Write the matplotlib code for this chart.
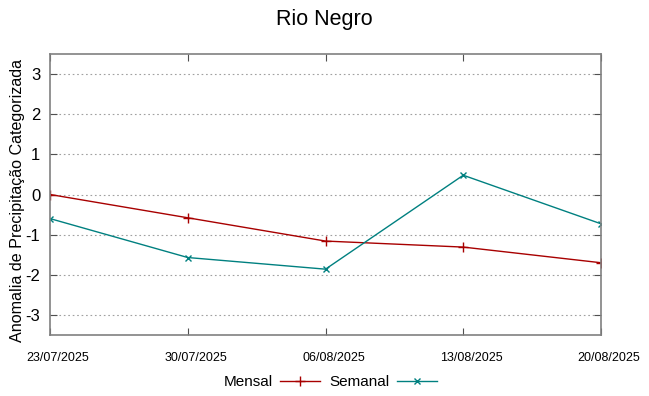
import matplotlib
matplotlib.use("Agg")
import matplotlib.pyplot as plt
import matplotlib.transforms as mtransforms
import pandas as pd

plt.rcParams['font.family'] = ['Liberation Sans', 'DejaVu Sans']
plt.rcParams['axes.unicode_minus'] = False

dates = ["2025-07-23", "2025-07-30", "2025-08-06", "2025-08-13", "2025-08-20"]
tick_labels = ["23/07/2025", "30/07/2025", "06/08/2025", "13/08/2025", "20/08/2025"]
mensal = [0.0, -0.58, -1.16, -1.31, -1.70]
semanal = [-0.60, -1.57, -1.86, 0.48, -0.73]

x = pd.to_datetime(dates)

fig = plt.figure(figsize=(6.49, 3.96), dpi=100)
ax = fig.add_axes([50/649, 61/396, 551/649, 281/396])

ax.plot(x, mensal, color='#a80000', lw=1.0, marker='+', ms=7, mew=1.0, label='Mensal')
ax.plot(x, semanal, color='#008080', lw=1.0, marker='x', ms=5, mew=1.0, label='Semanal')

ax.set_xlim(x[0], x[-1])
ax.set_ylim(-3.5, 3.5)
ax.set_xticks(x)
ax.set_xticklabels(tick_labels, fontsize=9)
ax.set_yticks([-3, -2, -1, 0, 1, 2, 3])
ax.tick_params(axis='y', labelsize=12)
ax.tick_params(direction='in', top=True, right=True, length=5, color='#505050', pad=7)
ax.tick_params(axis='x', pad=12)
offset = mtransforms.ScaledTranslation(8/100, 0, fig.dpi_scale_trans)
for lab in ax.get_xticklabels():
    lab.set_transform(lab.get_transform() + offset)
for s in ax.spines.values():
    s.set_color('#808080')
    s.set_linewidth(1.2)
ax.yaxis.grid(True, linestyle=(0, (1.5, 2.5)), color='#a0a0a0', lw=0.8)

ax.set_ylabel('Anomalia de Precipitação Categorizada', fontsize=11.6)
ax.yaxis.set_label_coords(-(50 - 25) / 551, 0.477)
fig.text(0.5, 1 - 20/396, 'Rio Negro', ha='center', va='center', fontsize=15.5)

fig.legend(loc='center', bbox_to_anchor=(330/649, 1 - 382/396), ncol=2, frameon=False,
           markerfirst=False, fontsize=11, handlelength=2.6, columnspacing=0.6,
           handletextpad=0.5)

fig.savefig('out.png', dpi=100)
